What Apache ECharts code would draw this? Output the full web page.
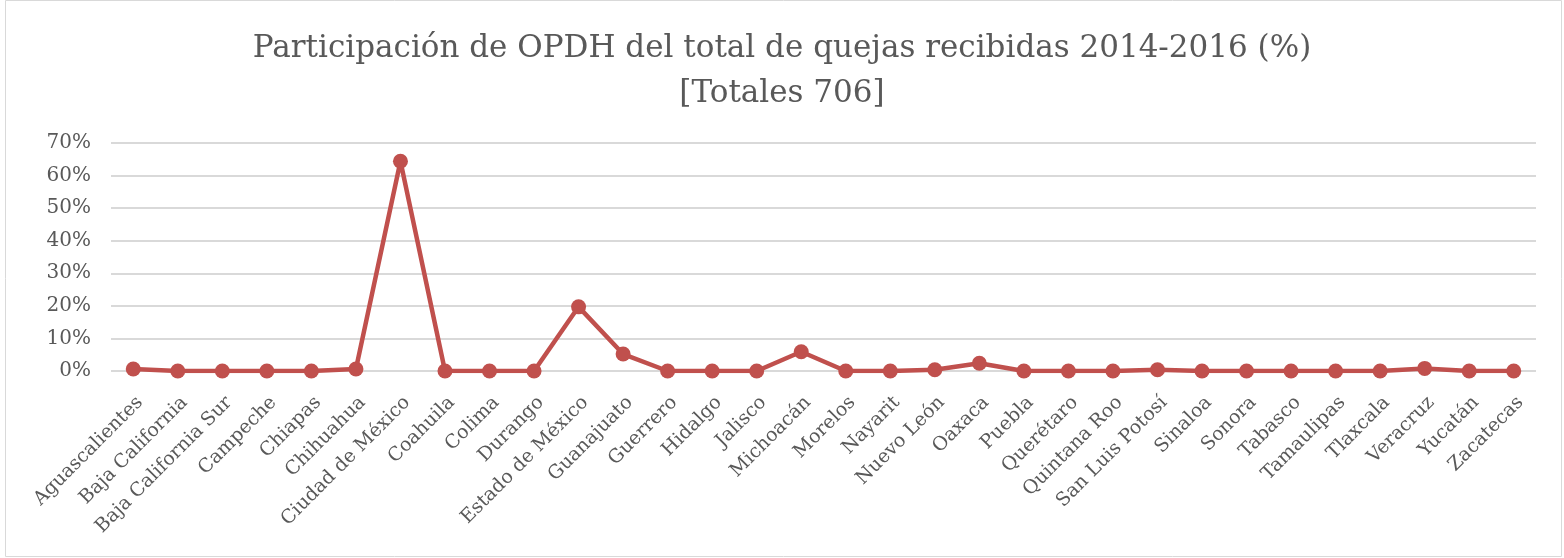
<!DOCTYPE html>
<html>
<head>
<meta charset="utf-8">
<script src="https://cdn.jsdelivr.net/npm/echarts@6/dist/echarts.min.js"></script>
<style>
html, body { margin: 0; padding: 0; background: #fff; }
#chart { width: 1564px; height: 558px; }
</style>
</head>
<body>
<div id="chart"></div>
<script>
// datos
const estados = ['Aguascalientes', 'Baja California', 'Baja California Sur', 'Campeche', 'Chiapas',
    'Chihuahua', 'Ciudad de México', 'Coahuila', 'Colima', 'Durango', 'Estado de México',
    'Guanajuato', 'Guerrero', 'Hidalgo', 'Jalisco', 'Michoacán', 'Morelos', 'Nayarit',
    'Nuevo León', 'Oaxaca', 'Puebla', 'Querétaro', 'Quintana Roo', 'San Luis Potosí',
    'Sinaloa', 'Sonora', 'Tabasco', 'Tamaulipas', 'Tlaxcala', 'Veracruz', 'Yucatán', 'Zacatecas'];
const participacion = [0.6, 0, 0, 0, 0, 0.6, 64.4, 0, 0, 0, 19.7,
    5.2, 0, 0, 0, 5.9, 0, 0, 0.4, 2.4, 0, 0, 0, 0.4,
    0, 0, 0, 0, 0, 0.8, 0, 0];
const ticksY = [0, 10, 20, 30, 40, 50, 60, 70];

const fuente = 'DejaVu Serif';
const gris = '#595959';

let charts = echarts.init(document.getElementById('chart'));

let option = {
    animation: false,
    title: {
        text: 'Participación de OPDH del total de quejas recibidas 2014-2016 (%)\n[Totales 706]',
        left: 'center',
        top: 21,
        textStyle: {
            color: gris,
            fontFamily: fuente,
            fontWeight: 'normal',
            fontSize: 31,
            lineHeight: 45,
        },
    },
    graphic: [{
        type: 'rect',
        shape: { x: 5.5, y: 0.5, width: 1556, height: 556 },
        style: { fill: 'none', stroke: '#d9d9d9', lineWidth: 1 },
        silent: true,
    }],
    grid: {
        left: 111,
        right: 28,
        top: 143,
        bottom: 187,
        containLabel: false,
    },
    xAxis: {
        type: 'category',
        data: estados,
        axisLine: { show: false },
        axisTick: { show: false },
        axisLabel: {
            color: gris,
            fontFamily: fuente,
            fontSize: 19,
            rotate: 45,
            interval: 0,
            margin: 22,
            verticalAlign: 'top',
        },
    },
    yAxis: {
        type: 'value',
        min: ticksY[0],
        max: ticksY[ticksY.length - 1],
        interval: 10,
        axisLine: { show: false },
        axisTick: { show: false },
        splitLine: { lineStyle: { color: '#d9d9d9', width: 2 } },
        axisLabel: {
            color: gris,
            fontFamily: fuente,
            fontSize: 20,
            margin: 20,
            formatter: v => v + '%',
        },
    },
    series: [{
        name: 'Participación',
        type: 'line',
        data: participacion,
        symbol: 'circle',
        symbolSize: 15,
        lineStyle: { color: '#C0504D', width: 4.5 },
        itemStyle: { color: '#C0504D' },
    }],
};

charts.setOption(option);
</script>
</body>
</html>
